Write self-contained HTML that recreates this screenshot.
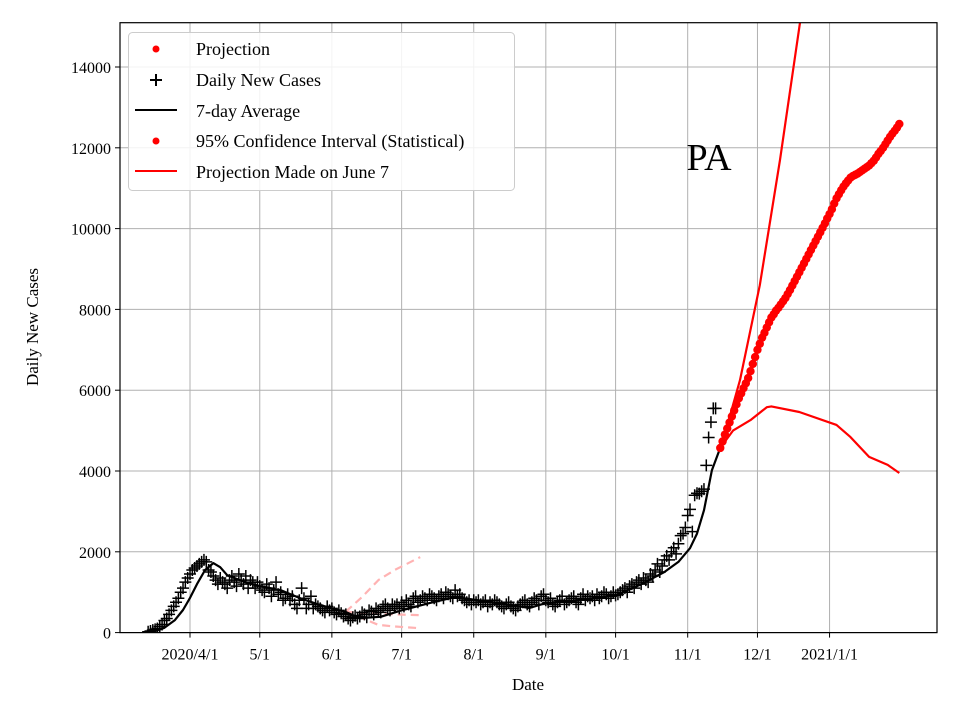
<!DOCTYPE html>
<html><head><meta charset="utf-8"><style>
body{margin:0;background:#fff}
svg{display:block;font-family:"Liberation Serif",serif}
</style></head><body>
<svg id="c" width="960" height="720" viewBox="0 0 960 720">
<rect width="960" height="720" fill="#fff"/>
<g id="grid"></g><g id="marks"></g><g id="axes"></g>
<text x="709" y="170" font-size="38" text-anchor="middle">PA</text>
<text x="528" y="690" font-size="17" text-anchor="middle">Date</text>
<text transform="translate(38,327) rotate(-90)" font-size="17" text-anchor="middle">Daily New Cases</text>
<g>
<rect x="128.5" y="32.5" width="386" height="158" rx="4" fill="#fff" fill-opacity="0.85" stroke="#ccc"/>
<circle cx="156" cy="49" r="3.5" fill="red"/>
<text x="196" y="55" font-size="18">Projection</text>
<path d="M150 80h12M156 74v12" stroke="#000" stroke-width="2"/>
<text x="196" y="86" font-size="18">Daily New Cases</text>
<path d="M135 110h42" stroke="#000" stroke-width="2"/>
<text x="196" y="117" font-size="18">7-day Average</text>
<circle cx="156" cy="141" r="3.5" fill="red"/>
<text x="196" y="147" font-size="18">95% Confidence Interval (Statistical)</text>
<path d="M135 171h42" stroke="red" stroke-width="2"/>
<text x="196" y="178" font-size="18">Projection Made on June 7</text>
</g>
</svg>
<script>
// days are offsets from 2020-04-01
const yTicks=[0,2000,4000,6000,8000,10000,12000,14000];
const xTickDays=[0,30,61,91,122,153,183,214,244,275];
const xTickLabels=["2020/4/1","5/1","6/1","7/1","8/1","9/1","10/1","11/1","12/1","2021/1/1"];
const caseStartDay=-18;
const dailyCases=[20,40,60,80,100,150,200,300,350,450,550,650,750,850,1000,1100,1250,1350,1450,1550,
1600,1650,1700,1750,1800,1750,1550,1500,1400,1300,1200,1350,1250,1200,1100,1300,1400,1250,1150,1450,1300,1200,1400,1100,1300,1250,1100,1250,
1150,1050,1000,1200,1100,900,1050,1250,950,1000,800,850,950,800,900,700,600,800,1100,850,600,700,900,600,700,650,600,550,
500,650,550,600,500,450,550,480,400,450,350,300,380,420,350,400,500,450,380,550,520,450,600,550,500,650,700,600,
550,700,650,700,600,750,650,800,700,650,850,900,750,800,900,850,800,950,900,850,800,900,950,850,1000,950,900,850,
1050,900,950,850,800,750,800,700,800,750,800,700,750,800,650,750,700,800,750,700,650,600,700,750,650,600,550,650,
700,750,800,700,650,750,850,800,700,900,950,800,750,850,700,650,750,800,900,700,750,800,850,900,750,700,850,950,
800,900,850,900,800,950,850,900,1000,950,850,900,1000,920,950,1000,1050,1100,1000,1150,1200,1100,1250,1300,1200,1350,1300,1250,
1450,1400,1550,1700,1500,1650,1800,1900,1800,2000,2100,1950,2200,2400,2450,2600,2900,3050,2500,3400,3450,3440,3500,3550,4140,4830,5210,5550,5550];
const avgDays=[-17,-11,-6.5,-3,0,3,6.5,10,13,16,23.6,30,39,47,56,67,73,82,91.5,103,114,122.5,133,146,153,168,183,193.5,204,210,215,218,221,224.4,228];
const avgVals=[0,120,310,560,860,1200,1550,1720,1620,1420,1250,1150,1050,860,680,510,360,390,560,730,880,810,730,610,730,810,930,1180,1500,1750,2090,2450,3030,4020,4570];
const projStartDay=228;
const projVals=[4570,4730,4900,5050,5200,5350,5500,5650,5800,5920,6050,6170,6300,6470,6650,6820,7000,7150,7300,7420,7550,7680,7800,7880,7970,8040,8120,8200,8280,8380,8480,8590,8700,8810,8920,9030,9140,9250,9360,9470,9580,9690,9800,9910,10020,10130,10250,10360,10480,10620,10750,10850,10950,11040,11120,11190,11260,11300,11330,11360,11400,11440,11480,11520,11560,11620,11680,11760,11850,11920,12000,12090,12180,12270,12350,12420,12500,12590];
const upperDays=[228.3,236.5,245,253.7,262.3,266];
const upperVals=[4570,6250,8600,11700,15100,16600];
const lowerDays=[228,233.5,241,248,250,262,278,284,292,300,305];
const lowerVals=[4570,5000,5260,5580,5600,5460,5140,4840,4350,4150,3950];
const juneDays=[67,74,81,88,99];
const juneUpper=[520,880,1300,1550,1870];
const juneMid=[520,480,470,450,430];
const juneLower=[520,360,190,150,110];

const X0=120,X1=937,D0=-30.1,D1=321.2,Y0=632.6,K=0.0404,YT=22.7;
const xs=d=>X0+(d-D0)*(X1-X0)/(D1-D0);
const ys=v=>Y0-v*K;
const NS="http://www.w3.org/2000/svg";
function mk(tag,attrs,parent){const e=document.createElementNS(NS,tag);for(const k in attrs)e.setAttribute(k,attrs[k]);parent.appendChild(e);return e;}
const grid=document.getElementById('grid'),marks=document.getElementById('marks'),axes=document.getElementById('axes');
yTicks.forEach(v=>{
 const l=mk('line',{x1:X0,x2:X1,y1:ys(v),y2:ys(v),stroke:'#b0b0b0','stroke-width':1},grid);
 
 
 mk('line',{x1:X0-5,x2:X0,y1:ys(v),y2:ys(v),stroke:'#000'},axes);
 const t=mk('text',{x:X0-9,y:ys(v)+6,'font-size':16,'text-anchor':'end'},axes);t.textContent=v;
 
 
});
xTickDays.forEach((d,i)=>{
 const l=mk('line',{x1:xs(d),x2:xs(d),y1:YT,y2:Y0,stroke:'#b0b0b0','stroke-width':1},grid);
 
 
 mk('line',{x1:xs(d),x2:xs(d),y1:Y0,y2:Y0+5,stroke:'#000'},axes);
 const t=mk('text',{x:xs(d),y:Y0+27,'font-size':16,'text-anchor':'middle'},axes);t.textContent=xTickLabels[i];
 
 
});
const fr=mk('rect',{x:X0,y:YT,width:X1-X0,height:Y0-YT,fill:'none',stroke:'#000','stroke-width':1.2},axes);


mk('clipPath',{id:'cp'},marks).appendChild(document.createElementNS(NS,'rect'));
const cr=marks.querySelector('#cp rect');cr.setAttribute('x',X0);cr.setAttribute('y',YT);cr.setAttribute('width',X1-X0);cr.setAttribute('height',Y0-YT);
const g=mk('g',{'clip-path':'url(#cp)'},marks);
function line(ds,vs,attrs,name){const p=mk('path',Object.assign({d:ds.map((d,i)=>(i?'L':'M')+xs(d).toFixed(1)+' '+ys(vs[i]).toFixed(1)).join(''),fill:'none','stroke-linejoin':'round'},attrs),g);
 
 }
line(juneDays,juneUpper,{stroke:'#ffb3b3','stroke-width':2.2,'stroke-dasharray':'8,5'},'june7-upper');
line(juneDays,juneMid,{stroke:'#ffb3b3','stroke-width':2.2,'stroke-dasharray':'8,5'},'june7-mid');
line(juneDays,juneLower,{stroke:'#ffb3b3','stroke-width':2.2,'stroke-dasharray':'8,5'},'june7-lower');
dailyCases.forEach((v,i)=>{const x=xs(caseStartDay+i),y=ys(v);
 const p=mk('path',{d:`M${x-6} ${y}h12M${x} ${y-6}v12`,stroke:'#000','stroke-width':1.5},g);
 
 });
line(avgDays,avgVals,{stroke:'#000','stroke-width':2.2},'seven-day-average');
line(upperDays,upperVals,{stroke:'red','stroke-width':2.2},'ci-upper');
line(lowerDays,lowerVals,{stroke:'red','stroke-width':2.2},'ci-lower');
projVals.forEach((v,i)=>{const c=mk('circle',{cx:xs(projStartDay+i),cy:ys(v),r:4.2,fill:'red'},g);
 
 });
</script>
</body></html>
